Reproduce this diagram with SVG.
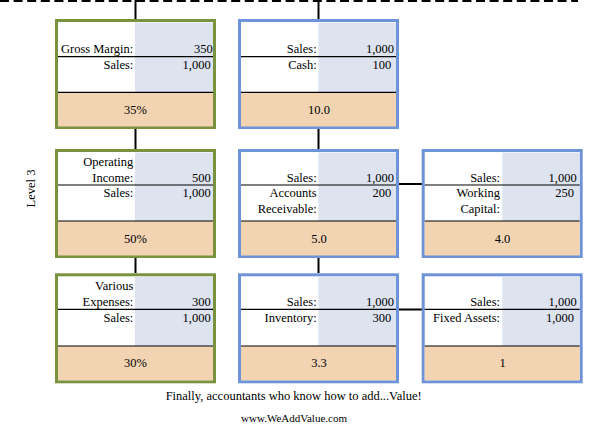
<svg xmlns="http://www.w3.org/2000/svg" width="599" height="433" viewBox="0 0 599 433">
<style>
text{font-family:"Liberation Serif","Times New Roman",serif;font-size:12.5px;fill:#000}
.r{text-anchor:end}
.c{text-anchor:middle}
.frame{fill:#fff;stroke-width:3}
.g{stroke:#78923d}
.b{stroke:#6f93d8}
.val{fill:#dde3ef}
.res{fill:#f2d4b3}
.sep{stroke:#000;stroke-width:1.2}
.conn{stroke:#000;stroke-width:2;fill:none}
</style>
<line x1="0" y1="1" x2="578" y2="1" stroke="#000" stroke-width="2" stroke-dasharray="9,4.6"/>
<g id="connectors">
<line class="conn" x1="135.5" y1="0" x2="135.5" y2="19"/>
<line class="conn" x1="135.5" y1="129" x2="135.5" y2="149"/>
<line class="conn" x1="135.5" y1="258" x2="135.5" y2="273"/>
<line class="conn" x1="318.5" y1="0" x2="318.5" y2="19"/>
<line class="conn" x1="318.5" y1="129" x2="318.5" y2="149"/>
<line class="conn" x1="318.5" y1="258" x2="318.5" y2="273"/>
<line class="conn" x1="399" y1="184" x2="422" y2="184"/>
<line class="conn" x1="399" y1="309.5" x2="422" y2="309.5"/>
</g>
<text transform="translate(35,188.5) rotate(-90)" class="c">Level 3</text>
<g id="gross-margin">
<rect class="frame g" x="56.5" y="20.5" width="158" height="107"/>
<rect class="val" x="135" y="22.5" width="78" height="70"/>
<rect class="res" x="58" y="92.3" width="155" height="34.2"/>
<line class="sep" x1="58" y1="56.7" x2="213" y2="56.7"/>
<line class="sep" x1="58" y1="92.3" x2="213" y2="92.3"/>
<text class="r" x="133.3" y="53">Gross Margin:</text>
<text class="r" x="212.7" y="53">350</text>
<text class="r" x="133.3" y="69">Sales:</text>
<text class="r" x="210.7" y="69">1,000</text>
<text class="c" x="135.5" y="114">35%</text>
</g>
<g id="cash">
<rect class="frame b" x="239.5" y="20.5" width="158" height="107"/>
<rect class="val" x="318.3" y="22.5" width="77.7" height="70"/>
<rect class="res" x="241" y="92.3" width="155" height="34.2"/>
<line class="sep" x1="241" y1="56.7" x2="396" y2="56.7"/>
<line class="sep" x1="241" y1="92.3" x2="396" y2="92.3"/>
<text class="r" x="316.7" y="53">Sales:</text>
<text class="r" x="394" y="53">1,000</text>
<text class="r" x="316.7" y="69">Cash:</text>
<text class="r" x="391.3" y="69">100</text>
<text class="c" x="319" y="114">10.0</text>
</g>
<g id="operating-income">
<rect class="frame g" x="56.5" y="150.5" width="158" height="106"/>
<rect class="val" x="135" y="152.5" width="78" height="68.5"/>
<rect class="res" x="58" y="221" width="155" height="34.5"/>
<line class="sep" x1="58" y1="185" x2="213" y2="185"/>
<line class="sep" x1="58" y1="221" x2="213" y2="221"/>
<text class="r" x="133.3" y="166.3">Operating</text>
<text class="r" x="133.3" y="182.3">Income:</text>
<text class="r" x="210.7" y="182.3">500</text>
<text class="r" x="133.3" y="197">Sales:</text>
<text class="r" x="210.7" y="197">1,000</text>
<text class="c" x="135.5" y="243.3">50%</text>
</g>
<g id="accounts-receivable">
<rect class="frame b" x="239.5" y="150.5" width="158" height="106"/>
<rect class="val" x="318.3" y="152.5" width="77.7" height="68.5"/>
<rect class="res" x="241" y="221" width="155" height="34.5"/>
<line class="sep" x1="241" y1="185" x2="396" y2="185"/>
<line class="sep" x1="241" y1="221" x2="396" y2="221"/>
<text class="r" x="316.7" y="182.3">Sales:</text>
<text class="r" x="394" y="182.3">1,000</text>
<text class="r" x="316.7" y="197.3">Accounts</text>
<text class="r" x="391.3" y="197.3">200</text>
<text class="r" x="316.7" y="213.3">Receivable:</text>
<text class="c" x="319" y="243.3">5.0</text>
</g>
<g id="working-capital">
<rect class="frame b" x="423.2" y="150.5" width="158" height="106"/>
<rect class="val" x="502.3" y="152.5" width="77" height="68.5"/>
<rect class="res" x="424.7" y="221" width="155" height="34.5"/>
<line class="sep" x1="424.7" y1="185" x2="579.7" y2="185"/>
<line class="sep" x1="424.7" y1="221" x2="579.7" y2="221"/>
<text class="r" x="500" y="182.3">Sales:</text>
<text class="r" x="576.7" y="182.3">1,000</text>
<text class="r" x="500" y="197.3">Working</text>
<text class="r" x="574" y="197.3">250</text>
<text class="r" x="500" y="213.3">Capital:</text>
<text class="c" x="502.5" y="243.3">4.0</text>
</g>
<g id="various-expenses">
<rect class="frame g" x="56.5" y="274.8" width="158" height="107"/>
<rect class="val" x="135" y="276.8" width="78" height="69.2"/>
<rect class="res" x="58" y="346" width="155" height="34.3"/>
<line class="sep" x1="58" y1="309.3" x2="213" y2="309.3"/>
<line class="sep" x1="58" y1="346" x2="213" y2="346"/>
<text class="r" x="133.3" y="290">Various</text>
<text class="r" x="133.3" y="305.7">Expenses:</text>
<text class="r" x="210.7" y="305.7">300</text>
<text class="r" x="133.3" y="321.7">Sales:</text>
<text class="r" x="210.7" y="321.7">1,000</text>
<text class="c" x="135.5" y="367.3">30%</text>
</g>
<g id="inventory">
<rect class="frame b" x="239.5" y="274.8" width="158" height="107"/>
<rect class="val" x="318.3" y="276.8" width="77.7" height="69.2"/>
<rect class="res" x="241" y="346" width="155" height="34.3"/>
<line class="sep" x1="241" y1="309.3" x2="396" y2="309.3"/>
<line class="sep" x1="241" y1="346" x2="396" y2="346"/>
<text class="r" x="316.7" y="305.7">Sales:</text>
<text class="r" x="394" y="305.7">1,000</text>
<text class="r" x="316.7" y="321.7">Inventory:</text>
<text class="r" x="391.3" y="321.7">300</text>
<text class="c" x="319" y="367.3">3.3</text>
</g>
<g id="fixed-assets">
<rect class="frame b" x="423.2" y="274.8" width="158" height="107"/>
<rect class="val" x="502.3" y="276.8" width="77" height="69.2"/>
<rect class="res" x="424.7" y="346" width="155" height="34.3"/>
<line class="sep" x1="424.7" y1="309.3" x2="579.7" y2="309.3"/>
<line class="sep" x1="424.7" y1="346" x2="579.7" y2="346"/>
<text class="r" x="500" y="305.7">Sales:</text>
<text class="r" x="576.7" y="305.7">1,000</text>
<text class="r" x="500" y="321.7">Fixed Assets:</text>
<text class="r" x="574" y="321.7">1,000</text>
<text class="c" x="502.5" y="367.3">1</text>
</g>
<text class="c" x="293.7" y="400">Finally, accountants who know how to add...Value!</text>
<text class="c" x="294" y="421.7" style="font-size:11px">www.WeAddValue.com</text>
</svg>
